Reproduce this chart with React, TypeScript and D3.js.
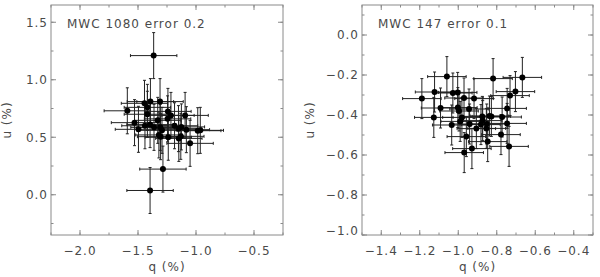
import React from 'react';
import { scaleLinear, range } from 'd3';

// MWC 1080, error 0.2
const q1080 = [
  -1.365, -1.592, -1.53, -1.496, -1.444, -1.419, -1.393, -1.419, -1.44, -1.396,
  -1.362, -1.31, -1.33, -1.308, -1.293, -1.305, -1.242, -1.245, -1.216, -1.239,
  -1.185, -1.151, -1.126, -1.148, -1.131, -1.094, -1.083, -1.051, -0.985, -0.963,
  -1.285, -1.396, -1.32,
];
const u1080 = [
  1.21, 0.73, 0.627, 0.569, 0.795, 0.76, 0.81, 0.70, 0.60, 0.61,
  0.586, 0.81, 0.647, 0.586, 0.56, 0.505, 0.725, 0.66, 0.69, 0.50,
  0.60, 0.575, 0.59, 0.49, 0.508, 0.69, 0.566, 0.447, 0.557, 0.56,
  0.223, 0.037, 0.52,
];

// MWC 147, error 0.1
const q147 = [
  -1.189, -1.127, -1.123, -1.092, -1.059, -1.034, -1.028, -1.003, -1.002, -0.996,
  -0.99, -0.981, -0.97, -0.958, -0.969, -0.944, -0.941, -0.929, -0.918, -0.906,
  -0.882, -0.875, -0.873, -0.854, -0.852, -0.847, -0.838, -0.828, -0.819, -0.778,
  -0.772, -0.746, -0.746, -0.736, -0.731, -0.703, -0.667,
];
const u147 = [
  -0.318, -0.412, -0.285, -0.365, -0.208, -0.45, -0.29, -0.287, -0.363, -0.38,
  -0.432, -0.412, -0.315, -0.508, -0.588, -0.37, -0.445, -0.568, -0.318, -0.468,
  -0.448, -0.407, -0.428, -0.467, -0.445, -0.533, -0.405, -0.407, -0.218, -0.498,
  -0.41, -0.367, -0.442, -0.557, -0.303, -0.283, -0.212,
];

const xTicks1080 = [-2.0, -1.5, -1.0, -0.5];
const yTicks1080 = [0.0, 0.5, 1.0, 1.5];
const xTicks147 = [-1.4, -1.2, -1.0, -0.8, -0.6, -0.4];
const yTicks147 = [0.0, -0.2, -0.4, -0.6, -0.8, -1.0];

const axisColor = '#8a8a8a';
const textColor = '#4a4a4a';
const font = 'DejaVu Sans, sans-serif';

type PanelProps = {
  left: number;
  right: number;
  top: number;
  bottom: number;
  xDomain: [number, number];
  yDomain: [number, number];
  xTicks: number[];
  yTicks: number[];
  xMinorStep: number;
  yMinorStep: number;
  q: number[];
  u: number[];
  err: number;
  title: string;
  yLabelX: number;
};

const fmt = (v: number) => {
  const s = Math.abs(v).toFixed(1);
  return v < -1e-9 ? '\u2212' + s : s;
};

const Panel = (p: PanelProps) => {
  const x = scaleLinear().domain(p.xDomain).range([p.left, p.right]);
  const y = scaleLinear().domain(p.yDomain).range([p.bottom, p.top]);

  const xMinor = range(
    Math.ceil(p.xDomain[0] / p.xMinorStep - 1e-6),
    Math.floor(p.xDomain[1] / p.xMinorStep + 1e-6) + 1
  ).map((k) => k * p.xMinorStep);
  const yMinor = range(
    Math.ceil(p.yDomain[0] / p.yMinorStep - 1e-6),
    Math.floor(p.yDomain[1] / p.yMinorStep + 1e-6) + 1
  ).map((k) => k * p.yMinorStep);

  const major = 5;
  const minor = 2.5;
  const cap = 1.5;
  const cx = (p.left + p.right) / 2;
  const cy = (p.top + p.bottom) / 2;

  return (
    <g>
      <rect
        x={p.left}
        y={p.top}
        width={p.right - p.left}
        height={p.bottom - p.top}
        fill='none'
        stroke={axisColor}
        strokeWidth={1}
      />
      {xMinor.map((v, i) => (
        <g key={'xm' + i} stroke={axisColor}>
          <line x1={x(v)} x2={x(v)} y1={p.bottom} y2={p.bottom - minor} />
          <line x1={x(v)} x2={x(v)} y1={p.top} y2={p.top + minor} />
        </g>
      ))}
      {yMinor.map((v, i) => (
        <g key={'ym' + i} stroke={axisColor}>
          <line x1={p.left} x2={p.left + minor} y1={y(v)} y2={y(v)} />
          <line x1={p.right} x2={p.right - minor} y1={y(v)} y2={y(v)} />
        </g>
      ))}
      {p.xTicks.map((v, i) => (
        <g key={'xt' + i}>
          <line x1={x(v)} x2={x(v)} y1={p.bottom} y2={p.bottom - major} stroke={axisColor} />
          <line x1={x(v)} x2={x(v)} y1={p.top} y2={p.top + major} stroke={axisColor} />
          <text
            x={x(v)}
            y={255}
            textAnchor='middle'
            fontFamily={font}
            fontSize={12}
            letterSpacing={1}
            fill={textColor}
          >
            {fmt(v)}
          </text>
        </g>
      ))}
      {p.yTicks.map((v, i) => (
        <g key={'yt' + i}>
          <line x1={p.left} x2={p.left + major} y1={y(v)} y2={y(v)} stroke={axisColor} />
          <line x1={p.right} x2={p.right - major} y1={y(v)} y2={y(v)} stroke={axisColor} />
          <text
            x={p.left - 3}
            y={Math.min(y(v), p.bottom - 4)}
            dy='0.36em'
            textAnchor='end'
            fontFamily={font}
            fontSize={12}
            letterSpacing={1}
            fill={textColor}
          >
            {fmt(v)}
          </text>
        </g>
      ))}
      <text
        x={p.left + 16}
        y={27.5}
        fontFamily={font}
        fontSize={12}
        letterSpacing={1}
        fill={textColor}
      >
        {p.title}
      </text>
      <text
        x={cx}
        y={271}
        textAnchor='middle'
        fontFamily={font}
        fontSize={12}
        letterSpacing={1}
        fill={textColor}
      >
        q (%)
      </text>
      <text
        transform={`translate(${p.yLabelX},${cy}) rotate(-90)`}
        textAnchor='middle'
        fontFamily={font}
        fontSize={12}
        letterSpacing={1}
        fill={textColor}
      >
        u (%)
      </text>
      <g stroke='#222' strokeWidth={1}>
        {p.q.map((qv, i) => {
          const px = x(qv);
          const py = y(p.u[i]);
          const x0 = x(qv - p.err);
          const x1 = x(qv + p.err);
          const y0 = y(p.u[i] - p.err);
          const y1 = y(p.u[i] + p.err);
          return (
            <g key={'e' + i}>
              <line x1={x0} x2={x1} y1={py} y2={py} />
              <line x1={x0} x2={x0} y1={py - cap} y2={py + cap} />
              <line x1={x1} x2={x1} y1={py - cap} y2={py + cap} />
              <line x1={px} x2={px} y1={y0} y2={y1} />
              <line x1={px - cap} x2={px + cap} y1={y0} y2={y0} />
              <line x1={px - cap} x2={px + cap} y1={y1} y2={y1} />
            </g>
          );
        })}
      </g>
      {p.q.map((qv, i) => (
        <circle key={'p' + i} cx={x(qv)} cy={y(p.u[i])} r={3} fill='#000' />
      ))}
    </g>
  );
};

const App = () => {
  return (
    <svg
      width={600}
      height={277}
      style={{ position: 'absolute', left: 0, top: 0, background: '#fff' }}
    >
      <Panel
        left={51}
        right={283}
        top={5}
        bottom={235}
        xDomain={[-2.25, -0.25]}
        yDomain={[-0.35, 1.65]}
        xTicks={xTicks1080}
        yTicks={yTicks1080}
        xMinorStep={0.25}
        yMinorStep={0.25}
        q={q1080}
        u={u1080}
        err={0.2}
        title='MWC 1080 error 0.2'
        yLabelX={11}
      />
      <Panel
        left={362}
        right={593}
        top={5}
        bottom={235}
        xDomain={[-1.5, -0.3]}
        yDomain={[-1.0, 0.15]}
        xTicks={xTicks147}
        yTicks={yTicks147}
        xMinorStep={0.1}
        yMinorStep={0.1}
        q={q147}
        u={u147}
        err={0.1}
        title='MWC 147 error 0.1'
        yLabelX={314}
      />
    </svg>
  );
};

export default App;
